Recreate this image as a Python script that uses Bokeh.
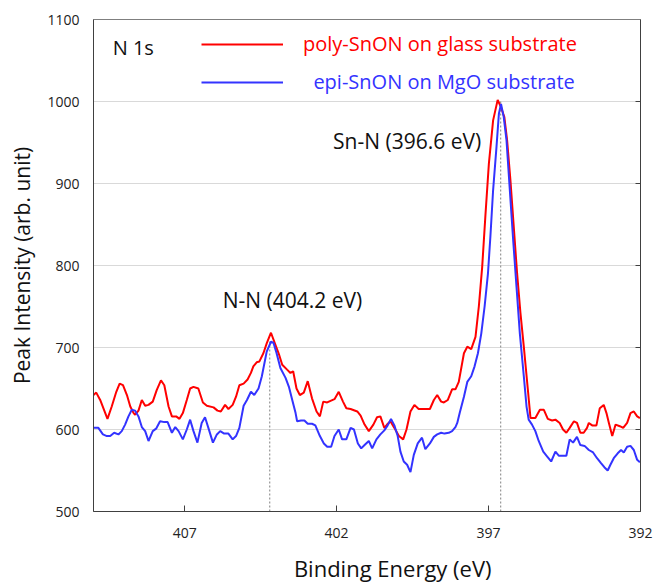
from bokeh.plotting import figure
from bokeh.models import (Range1d, FixedTicker, LinearAxis, Legend, LegendItem, Label)
from bokeh.embed import file_html
from bokeh.resources import INLINE

# ---------------- data ----------------
poly_be = [410.00, 409.91, 409.78, 409.54, 409.40, 409.25, 409.14, 409.03, 408.90, 408.79,
           408.68, 408.63, 408.52, 408.41, 408.30, 408.19, 408.05, 407.92, 407.78, 407.67,
           407.53, 407.42, 407.28, 407.17, 407.06, 406.93, 406.82, 406.71, 406.55, 406.40,
           406.27, 406.05, 405.92, 405.81, 405.67, 405.56, 405.42, 405.31, 405.20, 405.06,
           404.93, 404.82, 404.74, 404.63, 404.54, 404.41, 404.30, 404.16, 404.01, 403.90,
           403.79, 403.63, 403.52, 403.43, 403.32, 403.21, 403.08, 402.95, 402.81, 402.66,
           402.55, 402.44, 402.31, 402.20, 402.07, 401.93, 401.79, 401.68, 401.54, 401.32,
           401.21, 401.08, 400.94, 400.79, 400.67, 400.56, 400.43, 400.34, 400.23, 400.10,
           399.95, 399.81, 399.70, 399.57, 399.44, 399.30, 399.13, 398.93, 398.80, 398.69,
           398.56, 398.47, 398.34, 398.20, 398.09, 397.98, 397.81, 397.70, 397.57, 397.43,
           397.32, 397.21, 397.10, 396.99, 396.85, 396.70, 396.59, 396.48, 396.39, 396.28,
           396.17, 396.06, 395.95, 395.84, 395.71, 395.62, 395.46, 395.31, 395.18, 395.05,
           394.91, 394.80, 394.66, 394.55, 394.44, 394.33, 394.19, 394.09, 393.98, 393.87,
           393.76, 393.70, 393.59, 393.45, 393.34, 393.21, 393.12, 393.04, 392.93, 392.82,
           392.68, 392.57, 392.44, 392.33, 392.22, 392.11, 392.02]
poly_int = [642, 645, 636, 613, 628, 646, 656, 654, 642, 628,
            620, 618, 623, 636, 629, 630, 634, 648, 660, 654,
            628, 616, 616, 613, 620, 636, 650, 652, 650, 633,
            629, 627, 623, 622, 630, 625, 630, 640, 654, 656,
            661, 669, 677, 682, 683, 693, 705, 718, 703, 692,
            679, 673, 669, 671, 650, 642, 645, 659, 638, 622,
            616, 634, 633, 635, 637, 646, 634, 626, 625, 622,
            617, 606, 598, 606, 615, 616, 602, 606, 610, 602,
            592, 588, 600, 622, 630, 625, 625, 625, 636, 642,
            634, 633, 636, 649, 649, 658, 693, 701, 698, 713,
            750, 798, 863, 924, 977, 1002, 993, 981, 953, 904,
            847, 790, 742, 701, 650, 614, 614, 624, 624, 613,
            611, 612, 608, 600, 596, 602, 610, 608, 596, 596,
            602, 608, 605, 605, 626, 630, 620, 608, 592, 606,
            604, 602, 608, 620, 622, 616, 614]

epi_be = [410.00, 409.84, 409.69, 409.56, 409.45, 409.32, 409.18, 409.07, 408.96, 408.85,
          408.74, 408.63, 408.52, 408.41, 408.30, 408.19, 408.05, 407.94, 407.81, 407.67,
          407.56, 407.42, 407.31, 407.20, 407.06, 406.93, 406.82, 406.71, 406.58, 406.44,
          406.33, 406.22, 406.07, 405.94, 405.83, 405.70, 405.56, 405.42, 405.31, 405.20,
          405.06, 404.95, 404.82, 404.71, 404.57, 404.46, 404.30, 404.16, 404.08, 403.99,
          403.85, 403.68, 403.57, 403.46, 403.35, 403.30, 403.17, 403.06, 402.95, 402.81,
          402.70, 402.55, 402.42, 402.31, 402.18, 402.07, 401.93, 401.82, 401.68, 401.54,
          401.43, 401.30, 401.19, 401.08, 400.94, 400.83, 400.69, 400.56, 400.43, 400.32,
          400.21, 400.10, 399.99, 399.90, 399.79, 399.68, 399.57, 399.46, 399.33, 399.19,
          399.08, 398.93, 398.80, 398.69, 398.56, 398.45, 398.31, 398.20, 398.09, 398.03,
          397.95, 397.81, 397.70, 397.57, 397.46, 397.35, 397.24, 397.13, 397.02, 396.94,
          396.85, 396.74, 396.66, 396.59, 396.50, 396.41, 396.30, 396.19, 396.08, 395.97,
          395.84, 395.75, 395.68, 395.57, 395.46, 395.35, 395.20, 395.07, 394.94, 394.80,
          394.69, 394.55, 394.44, 394.33, 394.22, 394.09, 393.98, 393.84, 393.70, 393.56,
          393.43, 393.30, 393.19, 393.08, 392.99, 392.88, 392.75, 392.64, 392.55, 392.44,
          392.33, 392.22, 392.11, 392.02]
epi_int = [602, 602, 594, 592, 592, 596, 594, 598, 606, 616,
           624, 623, 616, 603, 598, 586, 598, 601, 610, 609,
           609, 596, 603, 598, 588, 600, 612, 598, 584, 608,
           615, 602, 584, 594, 598, 595, 595, 588, 592, 602,
           629, 636, 646, 642, 650, 665, 695, 707, 706, 695,
           675, 663, 652, 636, 620, 610, 611, 611, 607, 607,
           605, 592, 583, 579, 579, 592, 600, 588, 588, 602,
           600, 583, 577, 581, 586, 577, 588, 594, 599, 605,
           613, 605, 592, 573, 561, 557, 548, 569, 583, 590,
           576, 583, 591, 594, 596, 595, 596, 598, 603, 608,
           620, 640, 658, 665, 677, 693, 717, 750, 790, 835,
           892, 944, 985, 997, 981, 953, 892, 831, 774, 717,
           665, 628, 612, 606, 598, 586, 573, 567, 561, 573,
           568, 568, 568, 588, 584, 591, 581, 580, 575, 572,
           565, 559, 554, 550, 557, 565, 571, 575, 572, 579,
           580, 575, 563, 560]

peak_be = [404.2, 396.6]
peak_top = [708, 1000]
x_ticks = [407, 402, 397, 392]
y_ticks = [500, 600, 700, 800, 900, 1000, 1100]

FONT = "Open Sans"
RED = "#ff0000"
BLUE = "#3333ff"
NB = "\u00a0"

p = figure(width=653, height=585, output_backend="svg", toolbar_location=None,
           x_range=Range1d(410, 392), y_range=Range1d(500, 1100),
           min_border_left=93, min_border_right=13, min_border_top=19, min_border_bottom=73)
p.background_fill_color = "white"
p.border_fill_color = "white"
p.outline_line_color = "#7f7f7f"

p.xgrid.visible = False
p.ygrid.grid_line_color = "#d9d9d9"
p.ygrid.grid_line_width = 1
p.ygrid.ticker = FixedTicker(ticks=y_ticks)

# axes
xa = p.xaxis[0]
xa.ticker = FixedTicker(ticks=x_ticks)
xa.axis_label = NB * 9 + "Binding Energy (eV)"
ya = p.yaxis[0]
ya.ticker = FixedTicker(ticks=y_ticks)
ya.axis_label = "Peak Intensity (arb. unit)"
for ax in (xa, ya):
    ax.axis_line_color = "#404040"
    ax.major_tick_line_color = "#404040"
    ax.minor_tick_line_color = None
    ax.major_label_text_font = FONT
    ax.major_label_text_font_size = "14px"
    ax.major_label_text_color = "#222222"
    ax.axis_label_text_font = FONT
    ax.axis_label_text_font_style = "normal"
    ax.axis_label_text_color = "#111111"
xa.axis_label_text_font_size = "22px"
ya.axis_label_text_font_size = "21px"
xa.major_tick_in = 6
xa.major_tick_out = 0
xa.major_label_standoff = 16
xa.axis_label_standoff = 12
ya.major_tick_in = 0
ya.major_tick_out = 0
ya.major_label_standoff = 14
ya.axis_label_standoff = 8

ra = LinearAxis(ticker=FixedTicker(ticks=[600, 700, 800, 900, 1000]))
ra.major_tick_in = 5
ra.major_tick_out = 0
ra.minor_tick_line_color = None
ra.axis_line_color = "#404040"
ra.major_tick_line_color = "#404040"
ra.major_label_text_font_size = "0px"
ra.major_label_standoff = 0
p.add_layout(ra, "right")

# guide lines at peak positions
p.segment(x0=peak_be, y0=[500, 500], x1=peak_be, y1=peak_top,
          line_color="#808080", line_dash="2 2", line_width=1)

r_poly = p.line(poly_be, poly_int, line_color=RED, line_width=2)
r_epi = p.line(epi_be, epi_int, line_color=BLUE, line_width=2)

# legends (one per series, to colour labels)
leg1 = Legend(items=[LegendItem(label="poly-SnON on glass substrate", renderers=[r_poly])],
              location=(108, 454), label_text_color=RED)
leg2 = Legend(items=[LegendItem(label=NB * 2 + "epi-SnON on MgO substrate", renderers=[r_epi])],
              location=(108, 416), label_text_color=BLUE)
for lg in (leg1, leg2):
    lg.border_line_color = None
    lg.background_fill_alpha = 0
    lg.padding = 0
    lg.margin = 0
    lg.spacing = 0
    lg.glyph_width = 82
    lg.glyph_height = 20
    lg.label_height = 20
    lg.label_standoff = 20
    lg.label_text_font = FONT
    lg.label_text_font_size = "20px"
    p.add_layout(lg)

p.add_layout(Label(x=409.37, y=1066, text="N 1s", text_font=FONT, text_font_size="20px",
                   text_color="#111111", text_baseline="middle"))
p.add_layout(Label(x=399.68, y=952, text="Sn-N (396.6 eV)", text_font=FONT,
                   text_font_size="21px", text_color="#111111",
                   text_align="center", text_baseline="middle"))
p.add_layout(Label(x=403.45, y=758, text="N-N (404.2 eV)", text_font=FONT,
                   text_font_size="21px", text_color="#111111",
                   text_align="center", text_baseline="middle"))

open("out.html", "w").write(file_html(p, INLINE))
